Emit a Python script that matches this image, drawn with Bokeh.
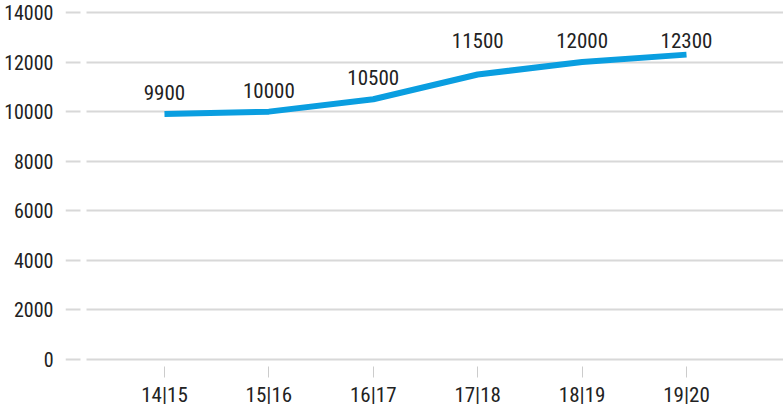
import numpy as np
from bokeh.plotting import figure
from bokeh.models import ColumnDataSource, FixedTicker, Range1d
from bokeh.core.properties import value
from bokeh.embed import file_html
from bokeh.resources import INLINE

seasons = ["14|15", "15|16", "16|17", "17|18", "18|19", "19|20"]
students = [9900, 10000, 10500, 11500, 12000, 12300]
y_ticks = [0, 2000, 4000, 6000, 8000, 10000, 12000, 14000]

FONT = "'Roboto Condensed', 'Liberation Sans Narrow', 'DejaVu Sans Condensed', sans-serif"

xs = np.arange(len(seasons))
vals = np.array(students, dtype=float)
label_y = np.where(vals > 11000, 12550, vals + 560)
src = ColumnDataSource(dict(x=xs, y=vals, ly=label_y, txt=[str(v) for v in students]))

p = figure(width=783, height=409, output_backend="svg", toolbar_location=None,
           x_range=Range1d(-0.948, 5.929), y_range=Range1d(-282, 14161),
           min_border_left=65, min_border_right=0, min_border_top=8, min_border_bottom=42)
p.outline_line_color = None
p.background_fill_color = "white"

p.line("x", "y", source=src, line_color="#0a9ee0", line_width=6)
p.text("x", "ly", text="txt", source=src, text_align="center", text_baseline="bottom",
       text_font=value(FONT), text_font_size="21px", text_color="#222222")

# y axis
p.yaxis.ticker = FixedTicker(ticks=y_ticks)
p.yaxis.axis_line_color = None
p.yaxis.major_tick_line_color = None
p.yaxis.minor_tick_line_color = None
p.yaxis.major_label_standoff = 6
p.yaxis.major_label_text_font = FONT
p.yaxis.major_label_text_font_size = "20px"
p.yaxis.major_label_text_color = "#222222"

# x axis
p.xaxis.ticker = FixedTicker(ticks=list(xs))
p.xaxis.major_label_overrides = {int(i): s for i, s in zip(xs, seasons)}
p.xaxis.axis_line_color = None
p.xaxis.minor_tick_line_color = None
p.xaxis.major_tick_line_color = "#cccccc"
p.xaxis.major_tick_line_width = 1
p.xaxis.major_tick_in = 0
p.xaxis.major_tick_out = 11
p.xaxis.major_label_standoff = 5
p.xaxis.major_label_text_font = FONT
p.xaxis.major_label_text_font_size = "21px"
p.xaxis.major_label_text_color = "#222222"

p.xgrid.grid_line_color = None
p.ygrid.grid_line_color = "#d8d8d8"
p.ygrid.grid_line_width = 2
p.ygrid.grid_line_dash = "15 6 2000"

open("out.html", "w").write(file_html(p, INLINE))
